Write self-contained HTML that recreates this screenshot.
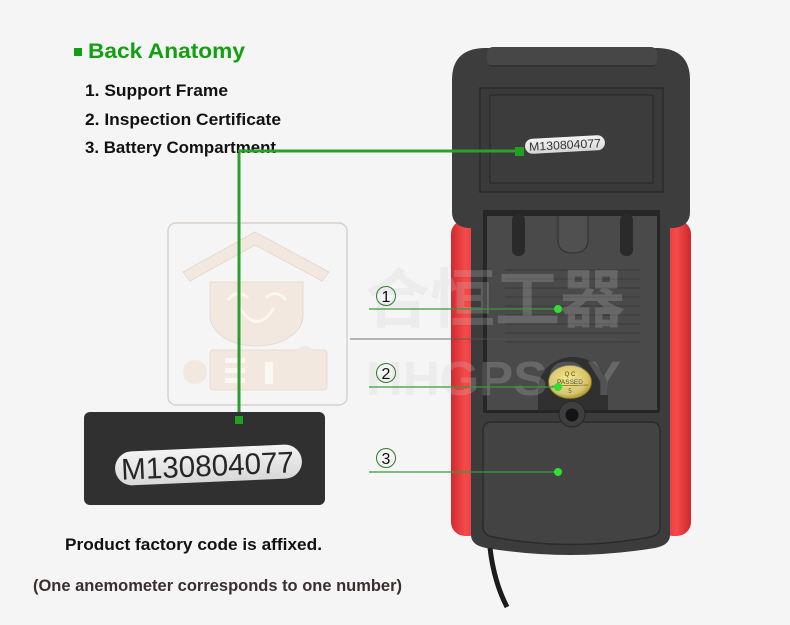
<!DOCTYPE html>
<html><head><meta charset="utf-8">
<style>
html,body{margin:0;padding:0;background:#f5f5f5;}
svg{display:block;}
</style></head>
<body>
<svg width="790" height="625" viewBox="0 0 790 625" xmlns="http://www.w3.org/2000/svg">
<defs>
<linearGradient id="redL" x1="0" x2="1" y1="0" y2="0">
<stop offset="0" stop-color="#d02a30"/><stop offset="0.45" stop-color="#f54a4a"/><stop offset="1" stop-color="#d83036"/>
</linearGradient>
<linearGradient id="redR" x1="0" x2="1" y1="0" y2="0">
<stop offset="0" stop-color="#d83036"/><stop offset="0.55" stop-color="#f54a4a"/><stop offset="1" stop-color="#cc282e"/>
</linearGradient>
<radialGradient id="gold" cx="0.45" cy="0.4" r="0.65">
<stop offset="0" stop-color="#f4e890"/><stop offset="0.7" stop-color="#d8c460"/><stop offset="1" stop-color="#a89028"/>
</radialGradient>
<linearGradient id="pill" x1="0" x2="0" y1="0" y2="1">
<stop offset="0" stop-color="#f4f4f4"/><stop offset="1" stop-color="#d8d8d8"/>
</linearGradient>
</defs>
<rect width="790" height="625" fill="#f5f5f5"/>

<!-- watermark logo -->
<g>
<rect x="168" y="223" width="179" height="182" rx="8" fill="none" stroke="#d9d1cb" stroke-width="1.5"/>
<polygon points="183,272 255,232 329,272 322,281 255,245 190,281" fill="#f3e8df" stroke="#e2d6cc" stroke-width="0.8"/>
<path d="M210,282 L303,282 L303,316 A46.5,30 0 0 1 210,316 Z" fill="#f3e8df" stroke="#e2d6cc" stroke-width="0.8"/>
<path d="M228,300 Q238,288 248,298" fill="none" stroke="#fbf7f3" stroke-width="3"/>
<path d="M266,298 Q276,288 286,300" fill="none" stroke="#fbf7f3" stroke-width="3"/>
<path d="M240,308 Q257,335 274,308" fill="none" stroke="#fbf7f3" stroke-width="3"/>
<rect x="210" y="350" width="117" height="40" rx="3" fill="#f3e8df" stroke="#e2d6cc" stroke-width="0.8"/>
<circle cx="195" cy="372" r="12" fill="#f3e8df"/>
<circle cx="305" cy="356" r="10" fill="#f3e8df"/>
<rect x="225" y="358" width="20" height="5" fill="#fbf7f3"/>
<rect x="225" y="368" width="20" height="5" fill="#fbf7f3"/>
<rect x="225" y="378" width="20" height="5" fill="#fbf7f3"/>
<rect x="265" y="362" width="8" height="22" fill="#fbf7f3"/>
</g>

<!-- device: red sides -->
<rect x="451" y="220" width="32" height="316" rx="14" fill="url(#redL)"/>
<rect x="659" y="220" width="32" height="316" rx="14" fill="url(#redR)"/>

<!-- lower dark body -->
<path d="M471,205 L670,205 L670,535 Q670,545 655,548 Q570,562 486,548 Q471,545 471,535 Z" fill="#3c3c3c"/>

<!-- cable -->
<path d="M490,548 Q494,582 507,607" fill="none" stroke="#1c1c1c" stroke-width="5"/>

<!-- top section -->
<path d="M452,80 Q452,49 484,48 L658,48 Q690,49 690,80 L690,212 Q690,226 674,228 L468,228 Q452,226 452,212 Z" fill="#3d3d3d"/>
<rect x="487" y="47" width="170" height="19" rx="6" fill="#474747"/>
<line x1="489" y1="66" x2="655" y2="66" stroke="#2e2e2e" stroke-width="1.5"/>
<rect x="480" y="88" width="183" height="104" fill="#3a3a3a" stroke="#2b2b2b" stroke-width="1.5"/>
<rect x="490" y="95" width="163" height="88" fill="#3c3c3c" stroke="#2a2a2a" stroke-width="1.2"/>

<!-- support frame -->
<rect x="483" y="210" width="177" height="203" fill="#262626"/>
<rect x="487" y="216" width="170" height="194" fill="#4a4a4a"/>
<rect x="512" y="214" width="13" height="42" rx="6" fill="#2a2a2a"/>
<rect x="620" y="214" width="13" height="42" rx="6" fill="#2a2a2a"/>
<path d="M558,216 L558,240 Q558,253 573,253 Q588,253 588,240 L588,216" fill="#505050" stroke="#333" stroke-width="1.2"/>
<g stroke="#3a3a3a" stroke-width="1">
<line x1="505" y1="270" x2="640" y2="270"/>
<line x1="505" y1="279" x2="640" y2="279"/>
<line x1="505" y1="288" x2="640" y2="288"/>
<line x1="505" y1="297" x2="640" y2="297"/>
<line x1="505" y1="306" x2="640" y2="306"/>
<line x1="505" y1="315" x2="640" y2="315"/>
<line x1="505" y1="324" x2="640" y2="324"/>
<line x1="505" y1="333" x2="640" y2="333"/>
<line x1="505" y1="342" x2="640" y2="342"/>
</g>
<path d="M538,410 L538,390 A35,33 0 0 1 608,390 L608,410 Z" fill="#303030"/>
<ellipse cx="570" cy="382" rx="21.5" ry="16.5" fill="url(#gold)" stroke="#8a7620" stroke-width="0.8"/>
<text x="570" y="376" font-family="Liberation Sans, sans-serif" font-size="6" text-anchor="middle" fill="#4a3d10">Q  C</text>
<text x="570" y="384" font-family="Liberation Sans, sans-serif" font-size="6.5" text-anchor="middle" fill="#4a3d10">PASSED</text>
<line x1="552" y1="386" x2="588" y2="385" stroke="#4a3d10" stroke-width="0.6"/>
<text x="570" y="393" font-family="Liberation Sans, sans-serif" font-size="6" text-anchor="middle" fill="#4a3d10">5</text>

<!-- battery cover -->
<path d="M483,431 Q483,422 492,422 L651,422 Q660,422 660,431 L660,527 Q660,535 650,537 Q571,552 493,537 Q483,535 483,527 Z" fill="#434343" stroke="#2b2b2b" stroke-width="1.5"/>
<circle cx="572" cy="414" r="13" fill="#3e3e3e" stroke="#2a2a2a" stroke-width="1.2"/>
<circle cx="572" cy="415" r="6.5" fill="#141414"/>

<!-- device serial label -->
<g transform="rotate(-3 565 145)">
<rect x="525" y="137" width="80" height="15" rx="7.5" fill="url(#pill)"/>
<text x="565" y="149" font-family="Liberation Sans, sans-serif" font-size="12" text-anchor="middle" fill="#333" textLength="72" lengthAdjust="spacingAndGlyphs">M130804077</text>
</g>

<!-- watermark text -->
<g opacity="0.22" font-family="Liberation Sans, 'Noto Sans CJK SC', sans-serif" font-weight="bold">
<text x="365" y="322" font-size="64" fill="#d0d0d0" textLength="260" lengthAdjust="spacingAndGlyphs">合恒工器</text>
<text x="366" y="395" font-size="48" fill="#d0d0d0" textLength="255" lengthAdjust="spacingAndGlyphs">HHGPSGY</text>
</g>
<line x1="350" y1="339" x2="623" y2="339" stroke="#555" stroke-width="1" opacity="0.8"/>

<!-- green connectors -->
<g stroke="#2e9e2e" stroke-width="3" fill="none">
<line x1="238" y1="151" x2="520" y2="151"/>
<line x1="239" y1="150" x2="239" y2="420"/>
</g>
<rect x="515" y="147" width="9" height="9" fill="#22a022"/>

<!-- numbered label lines -->
<g stroke="#3a9a3a" stroke-width="1.2">
<line x1="369" y1="309" x2="558" y2="309"/>
<line x1="369" y1="387" x2="558" y2="387"/>
<line x1="369" y1="472" x2="558" y2="472"/>
</g>
<g fill="#2fe02f">
<circle cx="558" cy="309" r="4"/>
<circle cx="558" cy="387" r="4"/>
<circle cx="558" cy="472" r="4"/>
</g>
<g fill="none" stroke="#2d7a2d" stroke-width="1">
<circle cx="386" cy="296" r="9.5"/>
<circle cx="386" cy="373" r="9.5"/>
<circle cx="386" cy="458" r="9.5"/>
</g>
<g font-family="Liberation Sans, sans-serif" font-size="16" fill="#111" text-anchor="middle">
<text x="386" y="302">1</text>
<text x="386" y="379">2</text>
<text x="386" y="464">3</text>
</g>

<!-- serial close-up -->
<rect x="84" y="412" width="241" height="93" rx="6" fill="#303030"/>
<g transform="rotate(-2.5 208 465)">
<rect x="115" y="448" width="187" height="34" rx="17" fill="url(#pill)"/>
<text x="121" y="476" font-family="Liberation Sans, sans-serif" font-size="30" fill="#262626" textLength="173" lengthAdjust="spacingAndGlyphs">M130804077</text>
</g>
<rect x="235" y="416" width="8" height="8" fill="#22a022"/>

<!-- texts -->
<rect x="74" y="48" width="8" height="8" fill="#11a011"/>
<text x="88" y="58" font-family="Liberation Sans, sans-serif" font-weight="bold" font-size="21" fill="#11a011" textLength="157" lengthAdjust="spacingAndGlyphs">Back Anatomy</text>
<g font-family="Liberation Sans, sans-serif" font-weight="bold" font-size="17" fill="#111">
<text x="85" y="96" textLength="143" lengthAdjust="spacingAndGlyphs">1. Support Frame</text>
<text x="85" y="125" textLength="196" lengthAdjust="spacingAndGlyphs">2. Inspection Certificate</text>
<text x="85" y="153" textLength="191" lengthAdjust="spacingAndGlyphs">3. Battery Compartment</text>
<text x="65" y="550" textLength="257" lengthAdjust="spacingAndGlyphs">Product factory code is affixed.</text>
<text x="33" y="591" fill="#3a2e2e" textLength="369" lengthAdjust="spacingAndGlyphs">(One anemometer corresponds to one number)</text>
</g>
<line x1="238" y1="151" x2="280" y2="151" stroke="#2e9e2e" stroke-width="3"/>
</svg>
</body></html>
